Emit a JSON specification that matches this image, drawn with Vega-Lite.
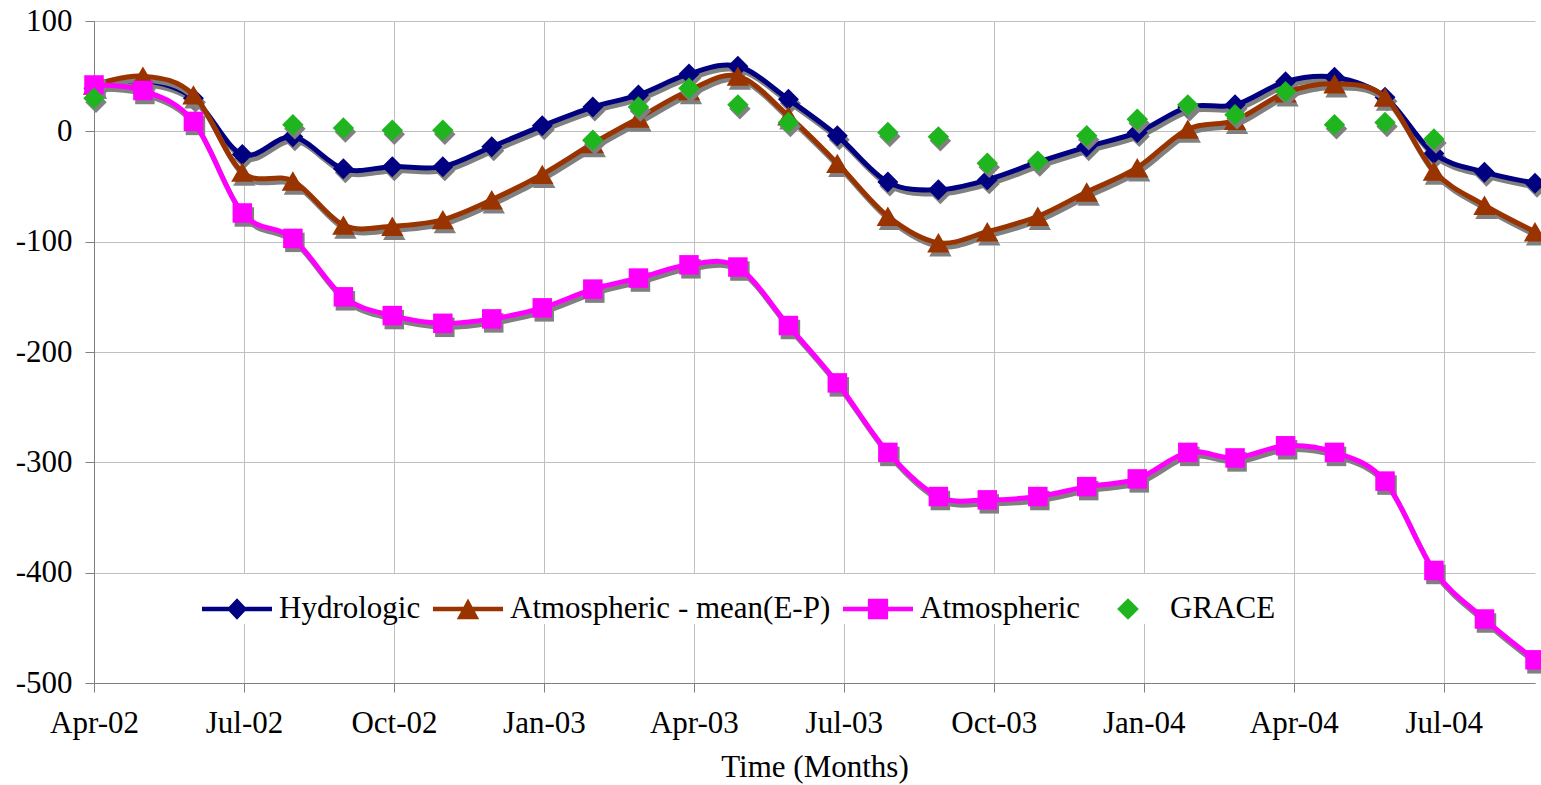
{
  "$schema": "https://vega.github.io/schema/vega-lite/v6.json",
  "width": 1441,
  "height": 662,
  "autosize": {"type": "none"},
  "padding": {"left": 94, "top": 21, "right": 6, "bottom": 102},
  "background": "white",
  "datasets": {
    "m": [
      {"date": "2002-04-01", "hydro": 39, "atm_mean": 42, "atm": 42, "grace": 30},
      {"date": "2002-05-01", "hydro": 46, "atm_mean": 50, "atm": 37},
      {"date": "2002-06-01", "hydro": 30, "atm_mean": 33, "atm": 9},
      {"date": "2002-07-01", "hydro": -21, "atm_mean": -37, "atm": -74},
      {"date": "2002-08-01", "hydro": -5, "atm_mean": -45, "atm": -97, "grace": 6},
      {"date": "2002-09-01", "hydro": -34, "atm_mean": -85, "atm": -150, "grace": 3},
      {"date": "2002-10-01", "hydro": -32, "atm_mean": -86, "atm": -167, "grace": 1},
      {"date": "2002-11-01", "hydro": -32, "atm_mean": -80, "atm": -174, "grace": 1},
      {"date": "2002-12-01", "hydro": -14, "atm_mean": -62, "atm": -170},
      {"date": "2003-01-01", "hydro": 5, "atm_mean": -39, "atm": -160},
      {"date": "2003-02-01", "hydro": 22, "atm_mean": -11, "atm": -143, "grace": -8},
      {"date": "2003-03-01", "hydro": 33, "atm_mean": 12, "atm": -133, "grace": 22},
      {"date": "2003-04-01", "hydro": 52, "atm_mean": 37, "atm": -121, "grace": 39},
      {"date": "2003-05-01", "hydro": 59, "atm_mean": 50, "atm": -123, "grace": 24},
      {"date": "2003-06-01", "hydro": 29, "atm_mean": 14, "atm": -176, "grace": 8},
      {"date": "2003-07-01", "hydro": -4, "atm_mean": -29, "atm": -228},
      {"date": "2003-08-01", "hydro": -46, "atm_mean": -77, "atm": -291, "grace": -1},
      {"date": "2003-09-01", "hydro": -53, "atm_mean": -101, "atm": -331, "grace": -5},
      {"date": "2003-10-01", "hydro": -44, "atm_mean": -91, "atm": -334, "grace": -29},
      {"date": "2003-11-01", "hydro": -28, "atm_mean": -77, "atm": -331, "grace": -27},
      {"date": "2003-12-01", "hydro": -14, "atm_mean": -55, "atm": -322, "grace": -4},
      {"date": "2004-01-01", "hydro": -1, "atm_mean": -33, "atm": -315, "grace": 11},
      {"date": "2004-02-01", "hydro": 22, "atm_mean": 2, "atm": -291, "grace": 24},
      {"date": "2004-03-01", "hydro": 24, "atm_mean": 10, "atm": -296, "grace": 15},
      {"date": "2004-04-01", "hydro": 45, "atm_mean": 35, "atm": -285, "grace": 36},
      {"date": "2004-05-01", "hydro": 49, "atm_mean": 43, "atm": -291, "grace": 6},
      {"date": "2004-06-01", "hydro": 31, "atm_mean": 31, "atm": -317, "grace": 8},
      {"date": "2004-07-01", "hydro": -20, "atm_mean": -36, "atm": -398, "grace": -7},
      {"date": "2004-08-01", "hydro": -37, "atm_mean": -67, "atm": -442},
      {"date": "2004-09-01", "hydro": -47, "atm_mean": -91, "atm": -479}
    ],
    "s": [
      {"name": "Hydrologic"},
      {"name": "Atmospheric - mean(E-P)"},
      {"name": "Atmospheric"},
      {"name": "GRACE"}
    ]
  },
  "data": {"name": "m"},
  "config": {
    "view": {"stroke": null},
    "font": "Liberation Serif",
    "axis": {
      "labelFont": "Liberation Serif",
      "labelFontSize": 31,
      "labelColor": "#000000",
      "titleFont": "Liberation Serif",
      "titleFontSize": 31,
      "titleFontWeight": "normal",
      "titleColor": "#000000",
      "domainColor": "#808080",
      "domainWidth": 1,
      "tickColor": "#808080",
      "tickSize": 9,
      "tickWidth": 1,
      "gridColor": "#c0c0c0",
      "gridWidth": 1
    }
  },
  "encoding": {
    "x": {
      "field": "date",
      "type": "temporal",
      "scale": {
        "type": "utc",
        "domain": [
          {"year": 2002, "month": 4, "date": 1, "utc": true},
          {"year": 2004, "month": 9, "date": 1, "utc": true}
        ]
      },
      "axis": {
        "title": "Time (Months)",
        "labelExpr": "utcFormat(datum.value, '%b-%y')",
        "values": [
          {"year": 2002, "month": 4, "date": 1, "utc": true},
          {"year": 2002, "month": 7, "date": 2, "utc": true},
          {"year": 2002, "month": 10, "date": 2, "utc": true},
          {"year": 2003, "month": 1, "date": 2, "utc": true},
          {"year": 2003, "month": 4, "date": 4, "utc": true},
          {"year": 2003, "month": 7, "date": 5, "utc": true},
          {"year": 2003, "month": 10, "date": 5, "utc": true},
          {"year": 2004, "month": 1, "date": 5, "utc": true},
          {"year": 2004, "month": 4, "date": 6, "utc": true},
          {"year": 2004, "month": 7, "date": 7, "utc": true}
        ],
        "labelFlush": false,
        "labelOverlap": false,
        "labelPadding": 16,
        "titlePadding": 14,
        "grid": true
      }
    },
    "y": {
      "field": "v",
      "type": "quantitative",
      "scale": {"domain": [-500, 100], "nice": false, "zero": false},
      "axis": {
        "title": null,
        "values": [-500, -400, -300, -200, -100, 0, 100],
        "labelExpr": "datum.value + ''",
        "labelPadding": 13,
        "grid": true
      }
    }
  },
  "layer": [
    {
      "transform": [{"fold": ["hydro"], "as": ["series", "v"]}],
      "mark": {"type": "line", "color": "#808080", "strokeWidth": 5, "interpolate": "cardinal", "xOffset": 2, "yOffset": 4}
    },
    {
      "transform": [{"fold": ["hydro"], "as": ["series", "v"]}],
      "mark": {"type": "point", "shape": "diamond", "filled": true, "color": "#808080", "opacity": 1, "size": 440, "xOffset": 2, "yOffset": 4}
    },
    {
      "transform": [{"fold": ["hydro"], "as": ["series", "v"]}],
      "mark": {"type": "line", "color": "#000080", "strokeWidth": 5, "interpolate": "cardinal"}
    },
    {
      "transform": [{"fold": ["hydro"], "as": ["series", "v"]}],
      "mark": {"type": "point", "shape": "diamond", "filled": true, "color": "#000080", "opacity": 1, "size": 440}
    },
    {
      "transform": [{"fold": ["atm_mean"], "as": ["series", "v"]}],
      "mark": {"type": "line", "color": "#808080", "strokeWidth": 5, "interpolate": "cardinal", "xOffset": 2, "yOffset": 4}
    },
    {
      "transform": [{"fold": ["atm_mean"], "as": ["series", "v"]}],
      "mark": {"type": "point", "shape": "triangle-up", "filled": true, "color": "#808080", "opacity": 1, "size": 500, "xOffset": 2, "yOffset": 4}
    },
    {
      "transform": [{"fold": ["atm_mean"], "as": ["series", "v"]}],
      "mark": {"type": "line", "color": "#993300", "strokeWidth": 5, "interpolate": "cardinal"}
    },
    {
      "transform": [{"fold": ["atm_mean"], "as": ["series", "v"]}],
      "mark": {"type": "point", "shape": "triangle-up", "filled": true, "color": "#993300", "opacity": 1, "size": 500}
    },
    {
      "transform": [{"fold": ["atm"], "as": ["series", "v"]}],
      "mark": {"type": "line", "color": "#808080", "strokeWidth": 5, "interpolate": "cardinal", "xOffset": 2, "yOffset": 4}
    },
    {
      "transform": [{"fold": ["atm"], "as": ["series", "v"]}],
      "mark": {"type": "point", "shape": "square", "filled": true, "color": "#808080", "opacity": 1, "size": 380, "xOffset": 2, "yOffset": 4}
    },
    {
      "transform": [{"fold": ["atm"], "as": ["series", "v"]}],
      "mark": {"type": "line", "color": "#ff00ff", "strokeWidth": 5, "interpolate": "cardinal"}
    },
    {
      "transform": [{"fold": ["atm"], "as": ["series", "v"]}],
      "mark": {"type": "point", "shape": "square", "filled": true, "color": "#ff00ff", "opacity": 1, "size": 380}
    },
    {
      "transform": [{"fold": ["grace"], "as": ["series", "v"]}],
      "mark": {"type": "point", "shape": "diamond", "filled": true, "color": "#808080", "opacity": 1, "size": 460, "xOffset": 2, "yOffset": 4}
    },
    {
      "transform": [{"fold": ["grace"], "as": ["series", "v"]}],
      "mark": {"type": "point", "shape": "diamond", "filled": true, "color": "#1fb51f", "opacity": 1, "size": 460}
    },
    {
      "data": {"name": "s"},
      "mark": {"type": "point", "filled": true, "opacity": 0},
      "encoding": {
        "x": {"value": 0},
        "y": {"value": 0},
        "color": {
          "field": "name",
          "type": "nominal",
          "scale": {
            "domain": ["Hydrologic", "Atmospheric - mean(E-P)", "Atmospheric", "GRACE"],
            "range": ["#000080", "#993300", "#ff00ff", "#1fb51f"]
          },
          "legend": {
            "title": null,
            "orient": "none",
            "legendX": 108,
            "legendY": 553,
            "direction": "horizontal",
            "symbolSize": 4900,
            "symbolOpacity": 1,
            "symbolStrokeWidth": 0,
            "labelFont": "Liberation Serif",
            "labelFontSize": 31,
            "labelColor": "#000000",
            "labelOffset": 7,
            "columnPadding": 12,
            "labelLimit": 0,
            "fillColor": "white",
            "padding": 0
          }
        },
        "shape": {
          "field": "name",
          "type": "nominal",
          "scale": {
            "domain": ["Hydrologic", "Atmospheric - mean(E-P)", "Atmospheric", "GRACE"],
            "range": [
              "M-1,-0.067H1V0.067H-1ZM0,-0.31L0.29,0L0,0.31L-0.29,0Z",
              "M-1,-0.067H1V0.067H-1ZM0,-0.3L0.32,0.29L-0.32,0.29Z",
              "M-1,-0.067H1V0.067H-1ZM-0.29,-0.29H0.29V0.29H-0.29Z",
              "M0,-0.31L0.31,0L0,0.31L-0.31,0Z"
            ]
          },
          "legend": {
            "title": null,
            "orient": "none",
            "legendX": 108,
            "legendY": 553,
            "direction": "horizontal",
            "symbolSize": 4900,
            "symbolOpacity": 1,
            "symbolStrokeWidth": 0,
            "labelFont": "Liberation Serif",
            "labelFontSize": 31,
            "labelColor": "#000000",
            "labelOffset": 7,
            "columnPadding": 12,
            "labelLimit": 0,
            "fillColor": "white",
            "padding": 0
          }
        }
      }
    }
  ]
}
